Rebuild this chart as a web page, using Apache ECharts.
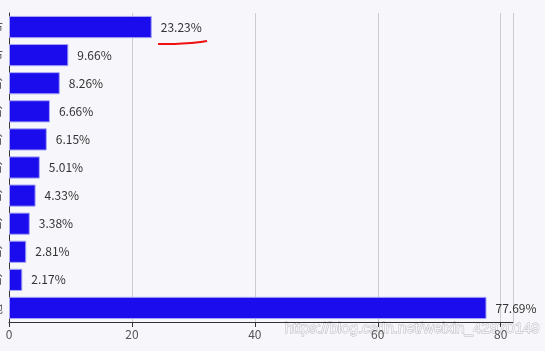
<!DOCTYPE html>
<html><head><meta charset="utf-8">
<script src="https://cdn.jsdelivr.net/npm/echarts@6/dist/echarts.min.js"></script>
<style>html,body{margin:0;padding:0;background:#f6f6fb;}#c{width:545px;height:351px;}</style>
</head><body><div id="c"></div>
<script>
// categories listed top to bottom
const categories = ['北京市','上海市','广东省','浙江省','江苏省','四川省','湖北省','山东省','福建省','河南省','其他'];
const values = [23.23, 9.66, 8.26, 6.66, 6.15, 5.01, 4.33, 3.38, 2.81, 2.17, 77.69];
const xTicks = [0, 20, 40, 60, 80];
const xMax = 82;

const chart = echarts.init(document.getElementById('c'));
chart.setOption({
  backgroundColor: '#f6f6fb',
  textStyle: {fontFamily: '"Noto Sans CJK SC", "Noto Sans", sans-serif'},
  grid: {left: 9, right: 32, top: 13, bottom: 29, containLabel: false, outerBoundsMode: 'none'},
  xAxis: {
    type: 'value', min: xTicks[0], max: xMax, interval: xTicks[1] - xTicks[0],
    axisLine: {show: true, lineStyle: {color: '#333'}},
    axisTick: {show: true, lineStyle: {color: '#333'}},
    axisLabel: {color: '#555', fontSize: 12, margin: 6},
    splitLine: {show: true, lineStyle: {color: '#ccc'}}
  },
  yAxis: {
    type: 'category', data: categories, inverse: true,
    axisLine: {show: true, lineStyle: {color: '#333'}},
    axisTick: {show: false},
    axisLabel: {color: '#555', fontSize: 12, margin: 6},
    splitLine: {show: false}
  },
  series: [{
    type: 'bar', data: values, barCategoryGap: '21%',
    itemStyle: {color: '#1a0ced', borderColor: '#a7a6f5', borderWidth: 1},
    label: {show: true, position: 'right', distance: 9, color: '#333', fontSize: 12,
      formatter: p => p.value.toFixed(2) + '%'}
  }],
  graphic: [
    {type: 'polyline', shape: {points: [[158,44],[175,44],[192,43],[201,42],[207,41]], smooth: 0.4},
     style: {stroke: '#ee1111', lineWidth: 2, fill: null}},
    {type: 'text', left: 284, top: 321,
     style: {text: 'https://blog.csdn.net/weixin_42970149', fill: 'rgba(255,255,255,0.85)',
       stroke: 'rgba(170,170,180,0.8)', lineWidth: 1, font: '15px "Liberation Sans", Arial, sans-serif'}}
  ]
});
</script></body></html>
